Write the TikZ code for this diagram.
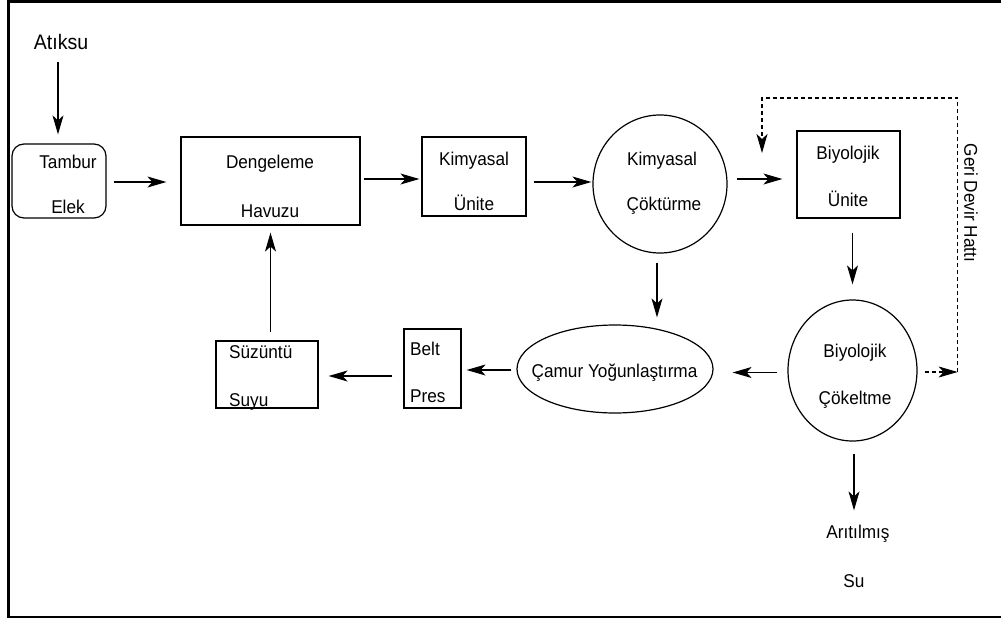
\documentclass[tikz,border=0pt]{standalone}
\usepackage{fontspec}
\setmainfont{Liberation Sans}[FakeStretch=0.93]
\usetikzlibrary{arrows.meta,shapes.geometric,calc}
\begin{document}
\begin{tikzpicture}[x=1pt,y=-1pt,
  every node/.style={font=\fontsize{18.5}{21}\selectfont},
  txt/.style={inner sep=0pt,anchor=base},
  ltxt/.style={inner sep=0pt,anchor=base west},
  unit/.style={draw,line width=1.2pt,inner sep=0pt,rectangle},
  tank/.style={draw,line width=1.2pt,inner sep=0pt,ellipse},
  arr/.style={line width=1.2pt,-{Stealth[length=19pt,width=11pt,inset=5pt]}},
  ret/.style={line width=1.1pt,dash pattern=on 4pt off 3pt},
]
% page and frame
\fill[white] (0,0) rectangle (1001,618);
\useasboundingbox (0,0) rectangle (1001,618);
\draw[line width=3pt] (7,1.5) -- (1001,1.5);
\draw[line width=3.3pt] (8.5,0) -- (8.5,618);
\draw[line width=1.8pt] (7,616.8) -- (1001,616.8);

% process units
\node[unit,rounded corners=12pt,minimum width=94pt,minimum height=74pt] (tambur) at (59,181) {};
\node[unit,minimum width=179pt,minimum height=88pt] (deng) at (270.5,181) {};
\node[unit,minimum width=104pt,minimum height=79pt] (kimu) at (474,176.5) {};
\node[tank,minimum width=134pt,minimum height=138pt] (cokt) at (660,184) {};
\node[unit,minimum width=103pt,minimum height=87pt] (biyou) at (848.5,174.5) {};
\node[tank,minimum width=129pt,minimum height=141pt] (cokel) at (852.5,370.5) {};
\node[tank,minimum width=196pt,minimum height=88pt] (camur) at (615,369) {};
\node[unit,minimum width=57pt,minimum height=79pt] (belt) at (432.5,368.5) {};
\node[unit,minimum width=102pt,minimum height=67pt] (suz) at (267,374.5) {};

% labels
\node[txt,font=\fontsize{21}{24}\selectfont] (atiksu) at (61,49) {Atıksu};
\node[txt] at (68,168) {Tambur};
\node[txt] at (68,213) {Elek};
\node[txt] at (270,168) {Dengeleme};
\node[txt] at (270,217) {Havuzu};
\node[txt] at (474,165) {Kimyasal};
\node[txt] at (474,210) {Ünite};
\node[txt] at (662,165) {Kimyasal};
\node[txt] at (664,210) {Çöktürme};
\node[txt] at (848,159) {Biyolojik};
\node[txt] at (848,206) {Ünite};
\node[txt] at (855,357) {Biyolojik};
\node[txt] at (855,404) {Çökeltme};
\node[txt] at (614.5,377) {Çamur Yoğunlaştırma};
\node[ltxt] at (410,355) {Belt};
\node[ltxt] at (410,402) {Pres};
\node[ltxt] at (229,358) {Süzüntü};
\node[ltxt] at (229,406) {Suyu};
\node[txt] (arit) at (858,538) {Arıtılmış};
\node[txt] at (854,587) {Su};
\node[inner sep=0pt,rotate=-90] (geri) at (971,203) {Geri Devir Hattı};

% main flow
\draw[arr] ($(tambur.north)+(-1,-81)$) -- ($(tambur.north)+(-1,-9)$);
\draw[arr] ($(tambur.east)+(7,1)$) -- ($(deng.west |- tambur.east)+(-14,1)$);
\draw[arr] ($(deng.east)+(3,-2)$) -- ($(kimu.west |- deng.east)+(-2,-2)$);
\draw[arr] ($(kimu.east |- cokt.west)+(7,-2)$) -- ($(cokt.west)+(-1,-2)$);
\draw[arr] ($(cokt.east)+(9,-5)$) -- ($(biyou.west |- cokt.east)+(-14,-5)$);
\draw[arr] ($(biyou.south -| cokel.north)+(0,14)$) -- ($(cokel.north)+(0,-15)$);
\draw[arr] ($(cokt.south)+(-3,9)$) -- ($(cokt.south |- camur.north)+(-3,-7)$);
\draw[arr] ($(cokel.west)+(-10,2)$) -- ($(camur.east |- cokel.west)+(19,2)$);
\draw[arr] ($(camur.west)+(-5,1)$) -- ($(belt.east |- camur.west)+(5,1)$);
\draw[arr] ($(belt.west)+(-11,7.5)$) -- ($(suz.east |- belt.west)+(10,7.5)$);
\draw[arr] ($(suz.north -| deng.south)+(0,-8)$) -- ($(deng.south)+(0,7)$);
\draw[arr] ($(cokel.south)+(1.5,12)$) -- ($(arit.north)+(-4,-14)$);

% return line
\coordinate (retR) at ($(cokel.east)+(40,1.5)$);
\coordinate (retL) at (762,98);
\draw[ret,-{Stealth[length=19pt,width=11pt,inset=5pt]}] ($(cokel.east)+(7,1.5)$) -- (retR);
\draw[ret,-{Stealth[length=19pt,width=11pt,inset=5pt]}] (retR) |- (retL) -- ($(retL)+(0,55)$);
\end{tikzpicture}
\end{document}
